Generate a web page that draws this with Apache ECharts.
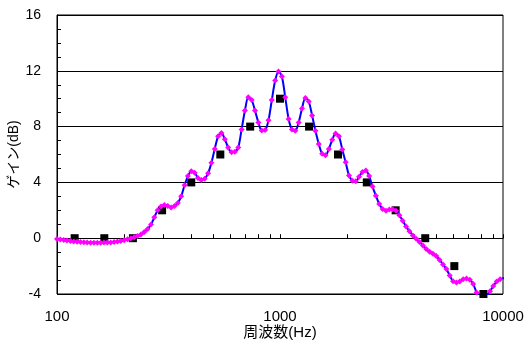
<!DOCTYPE html>
<html>
<head>
<meta charset="utf-8">
<script src="https://cdn.jsdelivr.net/npm/echarts@6/dist/echarts.min.js"></script>
<style>
  html, body { margin: 0; padding: 0; background: #fff; }
  #main { width: 526px; height: 350px; }
</style>
</head>
<body>
<div id="main"></div>
<script>
// target points (black squares)
var targetFreq = [120, 163, 219, 296, 400, 540, 735, 1000, 1350, 1820, 2450, 3300, 4480, 6050, 8170];
var targetGain = [0, 0, 0, 2, 4, 6, 8, 10, 8, 6, 4, 2, 0, -2, -4];

// measured response (blue line with magenta diamonds)
var measFreq = [
  96.6, 100, 103.5, 107.2, 110.9, 114.9, 118.9, 123.1, 127.5, 132.0,
  136.6, 141.4, 146.4, 151.6, 156.9, 162.4, 168.2, 174.1, 180.3, 186.6,
  193.2, 200, 207.1, 214.4, 221.9, 229.7, 237.8, 246.2, 254.9, 263.9,
  273.2, 282.8, 292.8, 303.1, 313.8, 324.9, 336.4, 348.2, 360.5, 373.2,
  386.4, 400, 414.1, 428.7, 443.8, 459.5, 475.7, 492.5, 509.8, 527.8,
  546.4, 565.7, 585.6, 606.3, 627.7, 649.8, 672.7, 696.4, 721.0, 746.4,
  772.7, 800, 828.2, 857.4, 887.7, 919.0, 951.4, 984.9, 1019.6, 1055.6,
  1092.9, 1131.4, 1171.3, 1212.6, 1255.4, 1299.6, 1345.4, 1392.9, 1442.0, 1492.9,
  1545.5, 1600, 1656.4, 1714.8, 1775.3, 1838.0, 1902.8, 1969.9, 2039.3, 2111.3,
  2185.7, 2262.7, 2342.6, 2425.2, 2510.7, 2599.2, 2690.9, 2785.8, 2884.0, 2985.7,
  3091.0, 3200, 3312.9, 3429.7, 3550.6, 3675.8, 3805.5, 3939.7, 4078.6, 4222.5,
  4371.4, 4525.5, 4685.1, 4850.3, 5021.4, 5198.4, 5381.7, 5571.5, 5768.0, 5971.4,
  6181.9, 6400, 6625.7, 6859.3, 7101.2, 7351.6, 7610.9, 7879.3, 8157.1, 8444.8,
  8742.6, 9050.9, 9370.1, 9700.5, 10042.6, 10396.7
];
var measGain = [
  0.0, -0.05, -0.09, -0.13, -0.17, -0.2, -0.23, -0.25, -0.27, -0.29,
  -0.31, -0.32, -0.32, -0.32, -0.32, -0.31, -0.31, -0.3, -0.27, -0.24,
  -0.2, -0.14, -0.08, -0.01, 0.07, 0.16, 0.27, 0.44, 0.66, 0.98,
  1.5, 2.0, 2.28, 2.38, 2.3, 2.2, 2.3, 2.53, 3.0, 3.8,
  4.45, 4.8, 4.7, 4.32, 4.17, 4.27, 4.65, 5.4, 6.4, 7.3,
  7.55, 7.1, 6.5, 6.17, 6.2, 6.5, 7.8, 9.15, 10.1, 9.9,
  9.15, 8.3, 7.72, 7.75, 8.45, 9.9, 11.3, 11.95, 11.6, 10.1,
  8.55, 7.8, 7.7, 8.3, 9.3, 10.05, 9.8, 8.8, 7.7, 6.75,
  6.05, 5.95, 6.4, 7.05, 7.5, 7.3, 6.35, 5.45, 4.5, 4.12,
  4.08, 4.4, 4.75, 4.85, 4.45, 3.7, 3.05, 2.45, 2.1, 1.97,
  2.05, 2.07, 1.97, 1.65, 1.25, 0.84, 0.5, 0.2, -0.04, -0.28,
  -0.52, -0.78, -0.98, -1.12, -1.28, -1.56, -1.88, -2.2, -2.68, -3.08,
  -3.18, -3.1, -2.95, -2.88, -2.98, -3.28, -3.9, -4.33, -4.4, -4.15,
  -3.8, -3.43, -3.1, -2.95, -2.87, -3.0
];

var xTicks = [100, 200, 300, 400, 500, 600, 700, 800, 900,
  1000, 2000, 3000, 4000, 5000, 6000, 7000, 8000, 9000, 10000];
var xLabels = [100, 1000, 10000];

var font = "'Liberation Sans', 'Noto Sans CJK JP', sans-serif";

var myChart = echarts.init(document.getElementById('main'));
myChart.setOption({
  animation: false,
  backgroundColor: '#fff',
  grid: {
    left: 57, top: 15, right: 23, bottom: 56,
    containLabel: false,
    outerBoundsMode: 'none',
    show: true, borderColor: '#000', borderWidth: 1
  },
  xAxis: {
    type: 'log',
    logBase: 10,
    min: 100,
    max: 10000,
    name: '周波数(Hz)',
    nameLocation: 'middle',
    nameGap: 31,
    nameMoveOverlap: false,
    nameTextStyle: { color: '#000', fontSize: 15, fontFamily: font },
    axisLine: { lineStyle: { color: '#000', width: 1 } },
    axisTick: {
      show: true, inside: true, length: 4,
      lineStyle: { color: '#000' },
      customValues: xTicks
    },
    axisLabel: {
      color: '#000', fontSize: 15, fontFamily: font, margin: 15,
      customValues: xLabels,
      formatter: function (v) { return String(Math.round(v)); }
    },
    splitLine: { show: false }
  },
  yAxis: {
    type: 'value',
    min: -4,
    max: 16,
    interval: 4,
    name: 'ゲイン(dB)',
    nameLocation: 'middle',
    nameGap: 36,
    nameRotate: 90,
    nameMoveOverlap: false,
    nameTextStyle: { color: '#000', fontSize: 14, fontFamily: font },
    axisLine: { show: true, lineStyle: { color: '#000', width: 1 } },
    axisTick: { show: true, inside: true, length: 4, lineStyle: { color: '#000' } },
    minorTick: { show: true, splitNumber: 4, length: 4, lineStyle: { color: '#000' } },
    axisLabel: { color: '#000', fontSize: 14, fontFamily: font, margin: 16 },
    splitLine: { show: true, lineStyle: { color: '#000', width: 1 } }
  },
  series: [
    {
      name: 'target',
      type: 'scatter',
      symbol: 'rect',
      symbolSize: 8,
      itemStyle: { color: '#000', opacity: 1 },
      data: targetFreq.map(function (f, i) { return [f, targetGain[i]]; }),
      z: 2
    },
    {
      name: 'measured',
      type: 'line',
      smooth: 0.3,
      symbol: 'diamond',
      symbolSize: 6,
      showAllSymbol: true,
      lineStyle: { color: '#0000ff', width: 2 },
      itemStyle: { color: '#ff00ff', borderWidth: 0, opacity: 1 },
      data: measFreq.map(function (f, i) { return [f, measGain[i]]; }),
      z: 3
    }
  ]
});
</script>
</body>
</html>
